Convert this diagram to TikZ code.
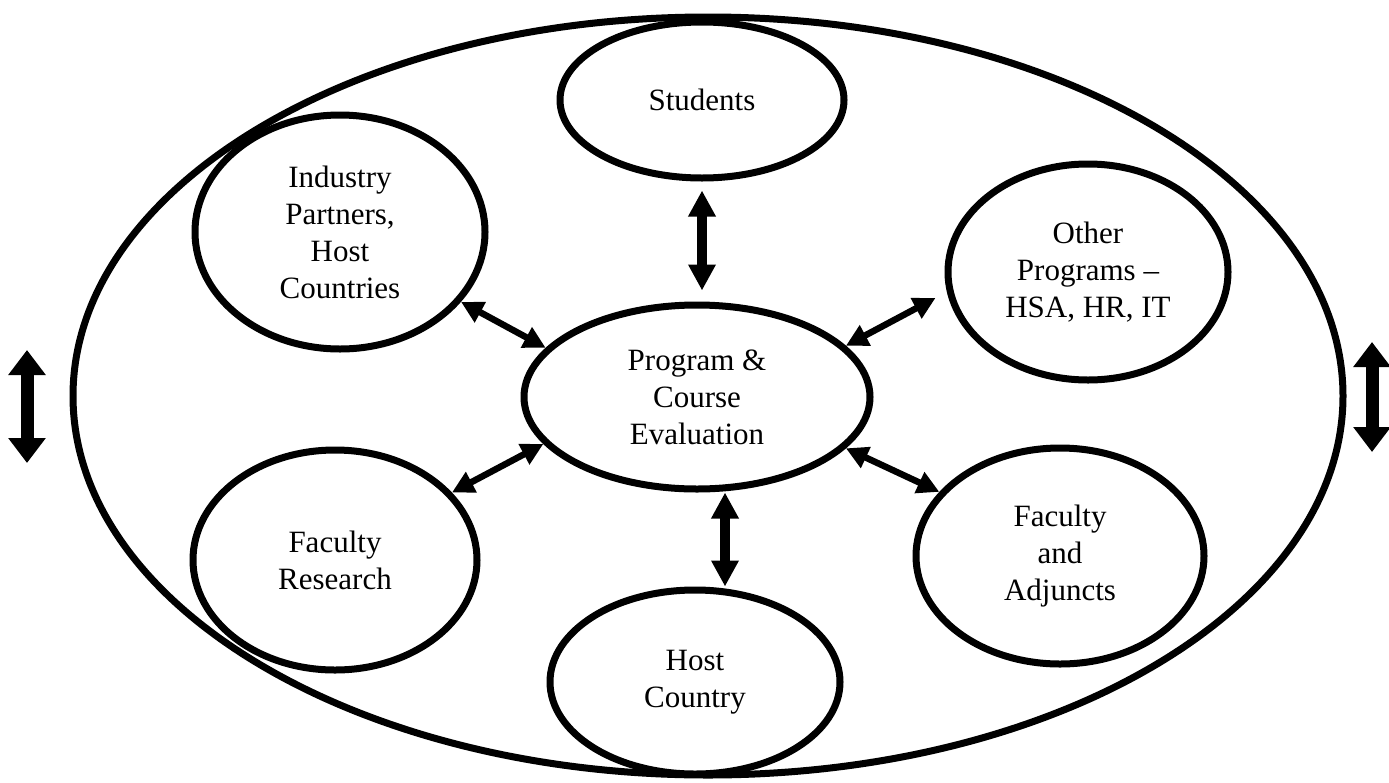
\documentclass[tikz,border=0pt]{standalone}
\usepackage{fontspec}
\setmainfont{Liberation Serif}
\usetikzlibrary{arrows.meta,shapes.geometric,positioning}

\begin{document}
\begin{tikzpicture}[x=1pt,y=-1pt,
    bubble/.style={ellipse,draw,line width=7pt,align=center,inner sep=0pt,
      font=\fontsize{31}{37}\selectfont},
    bigarrow/.style={line width=10pt,
      {Triangle[width=26pt,length=26pt]}-{Triangle[width=26pt,length=26pt]}},
    sidearrow/.style={line width=13pt,
      {Triangle[width=36pt,length=25pt]}-{Triangle[width=36pt,length=25pt]}},
    linkarrow/.style={line width=6.5pt,
      {Triangle[width=22pt,length=22pt]}-{Triangle[width=22pt,length=22pt]}}]

    \useasboundingbox (0,0) rectangle (1389,782);

    \node[bubble,minimum width=1270pt,minimum height=758pt] (world) at (708,396) {};

    \node[bubble,minimum width=284pt,minimum height=156pt] (stud) at (702,100) {Students};
    \node[bubble,minimum width=290pt,minimum height=234pt] (ind) at (340,232) {Industry\\Partners,\\Host\\Countries};
    \node[bubble,minimum width=280pt,minimum height=216pt] (oth) at (1088,272) {Other\\Programs --\\HSA, HR, IT};
    \node[bubble,minimum width=346pt,minimum height=184pt] (eval) at (697,397) {Program \&\\Course\\Evaluation};
    \node[bubble,minimum width=284pt,minimum height=220pt] (res) at (335,560) {Faculty\\Research};
    \node[bubble,minimum width=288pt,minimum height=216pt] (adj) at (1060,556) {Faculty\\and\\Adjuncts};
    \node[bubble,minimum width=290pt,minimum height=184pt] (host) at (695,682) {Host\\Country};

    \coordinate (lefttop) at (27,350);
    \coordinate (leftbot) at (27,463);
    \coordinate (righttop) at (1372,342);
    \coordinate (rightbot) at (1372,452);

    % links to the evaluation
    \draw[bigarrow,shorten <=9pt,shorten >=11pt] (stud) -- (stud |- eval.north);
    \draw[bigarrow] ([xshift=28pt]eval.south) -- ([xshift=30pt]host.north);
    \draw[linkarrow] (ind.-30) -- (eval.162);
    \draw[linkarrow] ([shift={(-9pt,-26pt)}]oth.west) -- (eval.19);
    \draw[linkarrow] (res.30) -- (eval.197);
    \draw[linkarrow] (adj.152) -- (eval.-19);

    \draw[sidearrow] (lefttop) -- (leftbot);
    \draw[sidearrow] (righttop) -- (rightbot);

\end{tikzpicture}
\end{document}
